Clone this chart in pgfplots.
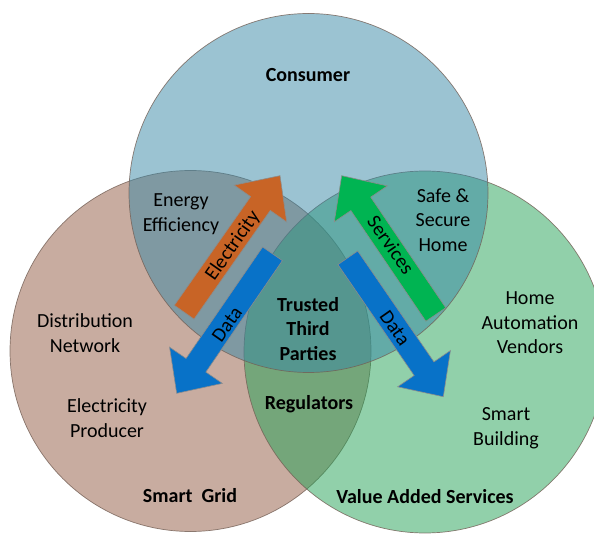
\documentclass[border=0pt]{standalone}
\usepackage{pgfplots}
\pgfplotsset{compat=1.18}
\usepackage{fontspec}
\setmainfont{Carlito}
\definecolor{leftc}{RGB}{145,89,65}
\definecolor{rightc}{RGB}{35,161,85}
\definecolor{topc}{RGB}{55,135,165}
\definecolor{edgec}{RGB}{115,95,85}
\definecolor{arrOrange}{RGB}{200,100,38}
\definecolor{arrBlue}{RGB}{8,114,200}
\definecolor{arrGreen}{RGB}{0,180,82}
\tikzset{lbl/.style={inner sep=0pt, align=center, text=black, font=\fontsize{20}{24.5}\selectfont},
         blbl/.style={lbl, font=\bfseries\fontsize{20}{24.5}\selectfont}}
\begin{document}
\begin{tikzpicture}
\begin{axis}[
  scale only axis, width=594pt, height=534pt,
  xmin=0, xmax=594, ymin=0, ymax=534, y dir=reverse,
  enlargelimits=false, hide axis, clip=false, clip mode=individual
]
% circles (centre, radius in pt = axis units)
\addplot[only marks, mark=*, mark size=180.5pt,
  mark options={fill=leftc, fill opacity=0.5, draw=edgec, draw opacity=0.8, line width=0.7pt}]
  coordinates {(190.5,351)};
\addplot[only marks, mark=*, mark size=181pt,
  mark options={fill=rightc, fill opacity=0.5, draw=edgec, draw opacity=0.8, line width=0.7pt}]
  coordinates {(425,352)};
\addplot[only marks, mark=*, mark size=179.5pt,
  mark options={fill=topc, fill opacity=0.5, draw=edgec, draw opacity=0.8, line width=0.7pt}]
  coordinates {(308.5,193)};
% arrows
\addplot[fill=arrOrange, draw=black!45, line width=0.6pt] coordinates {
 (194.02,319.09) (270.29,210.42) (286.66,221.91) (280,175.7)
 (234.28,185.15) (250.65,196.64) (174.38,305.31)} -- cycle;
\addplot[fill=arrGreen, draw=black!45, line width=0.6pt] coordinates {
 (445.73,307.77) (370.71,197.11) (387.27,185.88) (341.7,175.7)
 (334.29,221.8) (350.85,210.57) (425.87,321.23)} -- cycle;
\addplot[fill=arrBlue, draw=black!45, line width=0.6pt] coordinates {
 (282.39,260.59) (205.84,372.06) (222.33,383.39) (176.7,393.3)
 (169.57,347.15) (186.06,358.48) (262.61,247.01)} -- cycle;
\addplot[fill=arrBlue, draw=black!45, line width=0.6pt] coordinates {
 (357.69,251.0) (433.93,361.89) (450.4,350.57) (443.3,396.7)
 (397.68,386.81) (414.15,375.49) (337.91,264.6)} -- cycle;
% arrow labels
\node[lbl, rotate=55] at (axis cs:233,246) {Electricity};
\node[lbl, rotate=55] at (axis cs:227,324) {Data};
\node[lbl, rotate=-55] at (axis cs:391,245) {Services};
\node[lbl, rotate=-55] at (axis cs:395,328) {Data};
% region labels
\node[blbl] at (axis cs:308,75) {Consumer};
\node[lbl] at (axis cs:181,214) {Energy\\Efficiency};
\node[lbl] at (axis cs:443,220) {Safe \&\\Secure\\Home};
\node[lbl] at (axis cs:85,333) {Distribution\\Network};
\node[lbl] at (axis cs:107,418) {Electricity\\Producer};
\node[blbl] at (axis cs:308,329) {Trusted\\Third\\Parties};
\node[blbl] at (axis cs:309,404) {Regulators};
\node[lbl] at (axis cs:530,323) {Home\\Automation\\Vendors};
\node[lbl] at (axis cs:506,428) {Smart\\Building};
\node[blbl] at (axis cs:190,496) {Smart\ \ Grid};
\node[blbl] at (axis cs:425,497) {Value Added Services};
\end{axis}
\pgfresetboundingbox
\path[use as bounding box] (current axis.south west) rectangle (current axis.north east);
\end{tikzpicture}
\end{document}
